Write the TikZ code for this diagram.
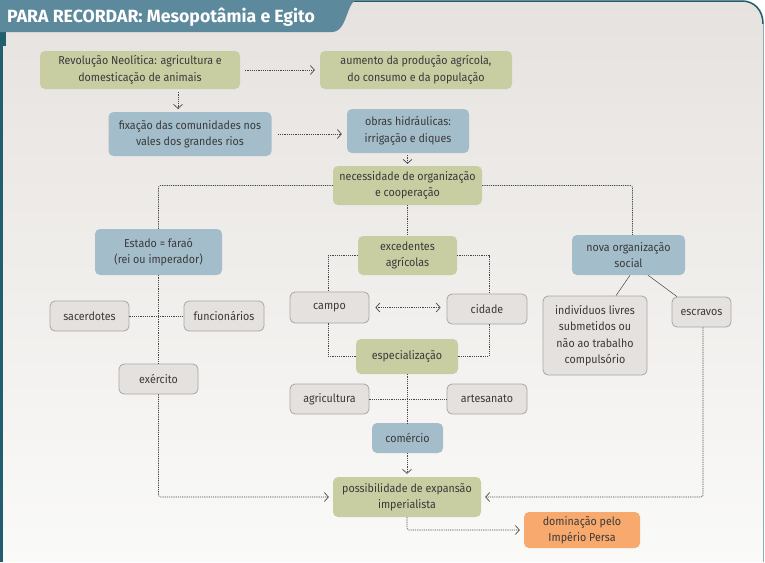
\documentclass[tikz,border=0pt]{standalone}
\usepackage{fontspec}
\setmainfont{Fira Sans}[FakeStretch=0.93]
\newfontfamily\titlefont{Fira Sans}
\usepackage{xcolor}
\usepackage{tikz}
\usetikzlibrary{arrows.meta}
\definecolor{rec_green}{RGB}{200, 205, 162}
\definecolor{rec_blue}{RGB}{163, 190, 202}
\definecolor{rec_grey}{RGB}{229, 225, 223}
\definecolor{rec_border}{RGB}{168, 166, 166}
\definecolor{rec_orange}{RGB}{248, 169, 110}
\definecolor{rec_bar}{RGB}{92, 137, 155}
\definecolor{rec_frame}{RGB}{34, 94, 110}
\definecolor{rec_text}{RGB}{58, 58, 58}
\definecolor{rec_line}{RGB}{70, 70, 70}
\definecolor{rec_bgtop}{RGB}{230, 226, 223}
\definecolor{rec_bgbot}{RGB}{250, 250, 248}

\tikzset{
  box/.style={rounded corners=5pt, align=center, inner sep=0pt, text=rec_text,
              font=\fontsize{11.5}{16.5}\selectfont},
  greenbox/.style={box, fill=rec_green},
  bluebox/.style={box, fill=rec_blue},
  greybox/.style={box, fill=rec_grey, draw=rec_border, line width=0.8pt},
  orangebox/.style={box, fill=rec_orange},
  link/.style={draw=rec_line, line width=0.6pt, dash pattern=on 1.2pt off 1pt},
  arrow/.style={link, -{Straight Barb[length=4pt,width=9pt,line width=0.7pt]}},
}

\begin{document}
\begin{tikzpicture}[x=1pt, y=-1pt]
  \useasboundingbox (0,0) rectangle (765,562);
  % panel and frame
  \shade[top color=rec_bgtop, bottom color=rec_bgbot]
    (0,562) -- (0,0) -- (742,0) .. controls (754,0) and (764,10) .. (764,22) -- (764,562) -- cycle;
  \draw[rec_frame, line width=1.5pt] (340,1) -- (742,1) .. controls (754,1) and (763,10) .. (763,24);
  \draw[rec_bar!70, line width=0.8pt] (763.5,24) -- (763.5,562);
  \draw[rec_frame, line width=3pt] (1.5,30) -- (1.5,562);
  \fill[rec_frame] (0,30) rectangle (6,46);
  \fill[rec_bar] (0,0) -- (358,0) .. controls (346,0) and (348,32) .. (332,32) -- (0,32) -- cycle;
  \node[anchor=base west, inner sep=0pt, text=white,
        font=\titlefont\bfseries\fontsize{17.7}{20}\selectfont] (title) at (7,23)
        {PARA RECORDAR: Mesopotâmia e Egito};

  % nodes
  \node[greenbox, minimum width=200pt, minimum height=38pt] (rev) at (140,70)
    {Revolução Neolítica: agricultura e\\domesticação de animais};
  \node[greenbox, minimum width=192pt, minimum height=38pt] (aum) at (416,70)
    {aumento da produção agrícola,\\do consumo e da população};
  \node[bluebox, minimum width=163pt, minimum height=44pt] (fix) at (190,134)
    {fixação das comunidades nos\\vales dos grandes rios};
  \node[bluebox, minimum width=122pt, minimum height=44pt] (obras) at (408,131)
    {obras hidráulicas:\\irrigação e diques};
  \node[greenbox, minimum width=149pt, minimum height=39pt] (nec) at (407.5,185.5)
    {necessidade de organização\\e cooperação};
  \node[bluebox, minimum width=127pt, minimum height=46pt] (estado) at (158.5,252)
    {Estado = faraó\\(rei ou imperador)};
  \node[greenbox, minimum width=99pt, minimum height=39pt] (exc) at (407.5,255.5)
    {excedentes\\agrícolas};
  \node[bluebox, minimum width=113pt, minimum height=40pt] (nova) at (628.5,255)
    {nova organização\\social};
  \node[greybox, minimum width=79pt, minimum height=30pt] (sac) at (89.5,316) {sacerdotes};
  \node[greybox, minimum width=80pt, minimum height=30pt] (func) at (224,316) {funcionários};
  \node[greybox, minimum width=79pt, minimum height=31pt] (campo) at (329.5,307.5) {campo};
  \node[greybox, minimum width=80pt, minimum height=30pt] (cidade) at (487,309) {cidade};
  \node[greybox, minimum width=104pt, minimum height=79pt] (indiv) at (595,335.5)
    {indivíduos livres\\submetidos ou\\não ao trabalho\\compulsório};
  \node[greybox, minimum width=59pt, minimum height=30pt] (escr) at (701.5,312) {escravos};
  \node[greybox, minimum width=79pt, minimum height=30pt] (exerc) at (158.5,379) {exército};
  \node[greenbox, minimum width=102pt, minimum height=35pt] (espec) at (407,356.5) {especialização};
  \node[greybox, minimum width=79pt, minimum height=30pt] (agri) at (329.5,399) {agricultura};
  \node[greybox, minimum width=80pt, minimum height=30pt] (artes) at (487,399) {artesanato};
  \node[bluebox, minimum width=71pt, minimum height=30pt] (com) at (407.5,438) {comércio};
  \node[greenbox, minimum width=148pt, minimum height=40pt] (poss) at (407,497)
    {possibilidade de expansão\\imperialista};
  \node[orangebox, minimum width=116pt, minimum height=36pt] (dom) at (582,530)
    {dominação pelo\\Império Persa};

  % connectors
  \coordinate (revdown) at (178,0);
  \draw[arrow, shorten <=5pt, shorten >=5pt] (rev.east) -- (aum.west);
  \draw[arrow, shorten <=3pt, shorten >=3pt] (rev.south -| revdown) -- (fix.north -| revdown);
  \draw[arrow, shorten <=6pt, shorten >=5pt] (fix.east) -- (fix.east -| obras.west);
  \draw[arrow, shorten <=2pt, shorten >=2pt] (obras.south -| nec.north) -- (nec.north);
  \draw[link, rounded corners=2pt] (nec.west) -| (estado.north);
  \draw[link, rounded corners=2pt] (nec.east) -| ([xshift=4pt]nova.north);
  \draw[link] (nec.south) -- (exc.north);
  \draw[link] (exc.west) -| ([xshift=-1.5pt]campo.north);
  \draw[link] (exc.east) -| ([xshift=2pt]cidade.north);
  \draw[link, {Straight Barb[length=4pt,width=9pt,line width=0.7pt]}-{Straight Barb[length=4pt,width=9pt,line width=0.7pt]},
        shorten <=6pt, shorten >=6pt] (campo.east) -- (campo.east -| cidade.west);
  \draw[link] ([xshift=-1.5pt]campo.south) |- (espec.west);
  \draw[link] ([xshift=2pt]cidade.south) |- (espec.east);
  \draw[link] (agri.east) -- (artes.west);
  \draw[link] (espec.south) -- (com.north -| espec.south);
  \draw[arrow, shorten >=3pt] (com.south -| poss.north) -- (poss.north);
  \draw[link] (sac.east) -- (func.west);
  \draw[link] (estado.south) -- (exerc.north);
  \draw[arrow, rounded corners=2pt, shorten >=4pt] (exerc.south) |- (poss.west);
  \draw[arrow, rounded corners=2pt, shorten >=4pt] ([xshift=1.5pt]escr.south) |- (poss.east);
  \draw[arrow, rounded corners=2pt, shorten >=4pt] (poss.south) |- (dom.west);
  \draw[rec_line, line width=0.5pt] ([xshift=1.5pt]nova.south) -- ([xshift=21pt]indiv.north);
  \draw[rec_line, line width=0.5pt] ([xshift=19.5pt]nova.south) -- ([xshift=-24.5pt]escr.north);
\end{tikzpicture}
\end{document}
